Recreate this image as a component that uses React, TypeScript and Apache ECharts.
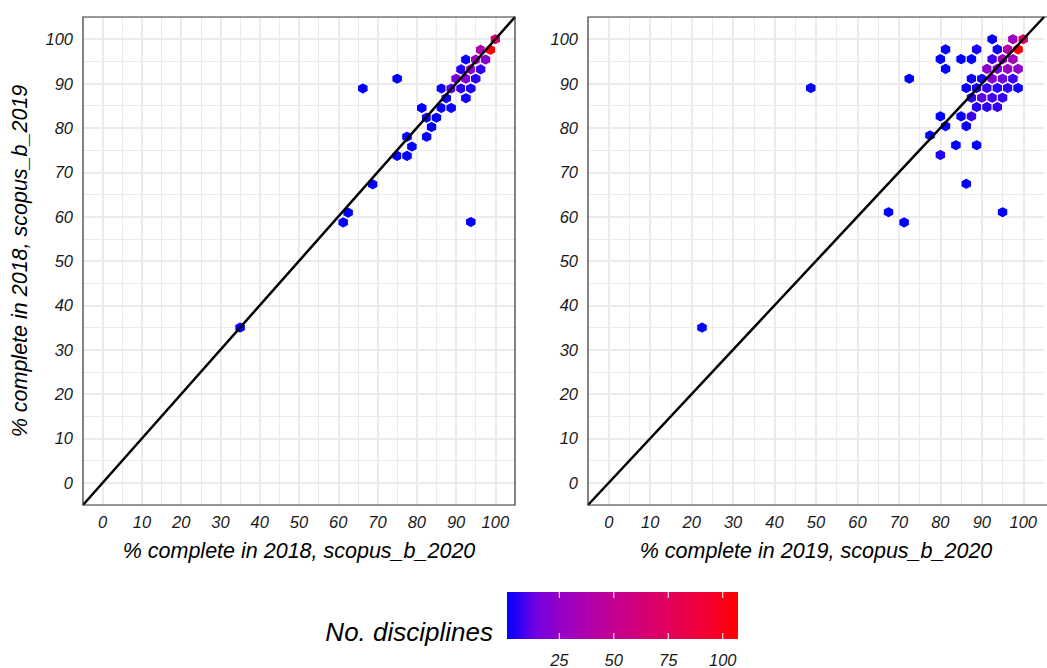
import React, { useEffect, useRef } from "react";
import * as echarts from "echarts";

// ---- data ----
// hexbin cells: [x, y, number of disciplines]
const leftCells: [number, number, number][] = [
  [100, 100, 65],
  [96.25, 97.6, 38], [98.75, 97.6, 107],
  [92.5, 95.4, 2], [95, 95.4, 30], [97.5, 95.4, 22],
  [91.25, 93.2, 5], [93.75, 93.2, 25], [96.25, 93.2, 7],
  [75, 91.1, 1], [90, 91.1, 18], [92.5, 91.1, 20], [95, 91.1, 6],
  [66.25, 88.9, 1], [86.25, 88.9, 3], [88.75, 88.9, 11], [91.25, 88.9, 6], [93.75, 88.9, 4],
  [87.5, 86.7, 2], [92.5, 86.7, 3],
  [81.25, 84.5, 1], [86.25, 84.5, 2], [88.75, 84.5, 2],
  [82.5, 82.3, 2], [85, 82.3, 1],
  [83.75, 80.2, 1],
  [77.5, 78, 1], [82.5, 78, 2],
  [78.75, 75.8, 1],
  [75, 73.7, 1], [77.5, 73.7, 1],
  [68.75, 67.3, 1],
  [62.5, 60.9, 1],
  [61.25, 58.7, 1], [93.75, 58.8, 1],
  [35, 35, 1],
];

const rightCells: [number, number, number][] = [
  [92.5, 100, 1], [97.5, 100, 30], [100, 100, 70],
  [81.25, 97.7, 1], [88.75, 97.7, 4], [93.75, 97.7, 3], [96.25, 97.7, 40], [98.75, 97.7, 107],
  [80, 95.5, 1], [85, 95.5, 1], [87.5, 95.5, 1], [92.5, 95.5, 8], [95, 95.5, 28], [97.5, 95.5, 32],
  [81.25, 93.3, 1], [91.25, 93.3, 22], [93.75, 93.3, 18], [96.25, 93.3, 28], [98.75, 93.3, 25],
  [72.5, 91.1, 1], [87.5, 91.1, 2], [90, 91.1, 3], [92.5, 91.1, 20], [95, 91.1, 14], [97.5, 91.1, 8],
  [86.25, 89, 2], [88.75, 89, 3], [91.25, 89, 7], [93.75, 89, 6], [96.25, 89, 6], [98.75, 89, 3],
  [87.5, 86.8, 5], [90, 86.8, 12], [92.5, 86.8, 9], [95, 86.8, 7],
  [88.75, 84.7, 5], [91.25, 84.7, 6], [93.75, 84.7, 7],
  [80, 82.6, 1], [85, 82.6, 2], [87.5, 82.6, 8],
  [81.25, 80.4, 1], [86.25, 80.4, 2],
  [77.5, 78.3, 1],
  [83.75, 76.1, 1], [88.75, 76.1, 1],
  [80, 73.9, 5],
  [86.25, 67.4, 1],
  [67.5, 61, 1], [95, 61, 1],
  [71.25, 58.7, 1],
  [48.75, 89, 1],
  [22.5, 35, 1],
];

const axisMin = -5;
const axisMax = 105;
const majorTicks = [0, 10, 20, 30, 40, 50, 60, 70, 80, 90, 100];
const minorTicks = [5, 15, 25, 35, 45, 55, 65, 75, 85, 95];
const diagonal = [[-5, -5], [105, 105]];
const legendTicks = [25, 50, 75, 100];
const countMin = 1;
const countMax = 107;
const gradientStops = ["#0000FF", "#7300E0", "#9A00C2", "#B500A5", "#C90088", "#DA006C", "#E8004F", "#F40031", "#FF0000"];

const xTitles = ["% complete in 2018, scopus_b_2020", "% complete in 2019, scopus_b_2020"];
const yTitle = "% complete in 2018, scopus_b_2019";
const legendTitle = "No. disciplines";

const FONT = "'Liberation Sans', Arial, sans-serif";

export default function App() {
  const ref = useRef<HTMLDivElement>(null);
  useEffect(() => {
    if (!ref.current) return;
    const chart = echarts.init(ref.current, undefined, { renderer: "svg" });

    const top = 17;
    const height = 488;
    const grids = [
      { left: 83, top, width: 432, height },
      { left: 588, top, width: 461, height },
    ];

    const labelFmt = (v: number) => (Math.round(v) % 10 === 0 && v >= 0 && v <= 100 ? String(v) : "");
    const axisLabel = {
      formatter: labelFmt,
      fontFamily: FONT,
      fontStyle: "italic",
      fontSize: 16.5,
      color: "#1a1a1a",
    };
    const titleStyle = { fontFamily: FONT, fontStyle: "italic", fontSize: 21.5, color: "#000" };

    const xAxes = grids.map((_, i) => ({
      type: "value",
      gridIndex: i,
      min: axisMin,
      max: axisMax,
      interval: 5,
      axisLine: { show: false },
      axisTick: { show: false },
      splitLine: { show: false },
      axisLabel: { ...axisLabel, margin: 8 },
      name: xTitles[i],
      nameLocation: "middle",
      nameGap: 35,
      nameTextStyle: titleStyle,
    }));
    const yAxes = grids.map((_, i) => ({
      type: "value",
      gridIndex: i,
      min: axisMin,
      max: axisMax,
      interval: 5,
      axisLine: { show: false },
      axisTick: { show: false },
      splitLine: { show: false },
      axisLabel: { ...axisLabel, margin: 10 },
      name: i === 0 ? yTitle : "",
      nameLocation: "middle",
      nameGap: 52,
      nameTextStyle: titleStyle,
    }));

    const gridLineData = [
      ...minorTicks.map((v) => ({ xAxis: v, lineStyle: { width: 1 } })),
      ...minorTicks.map((v) => ({ yAxis: v, lineStyle: { width: 1 } })),
      ...majorTicks.map((v) => ({ xAxis: v, lineStyle: { width: 2 } })),
      ...majorTicks.map((v) => ({ yAxis: v, lineStyle: { width: 2 } })),
    ];

    const hexPath = "path://M0,-1L0.866,-0.5L0.866,0.5L0,1L-0.866,0.5L-0.866,-0.5Z";

    const series: any[] = [];
    [leftCells, rightCells].forEach((cells, i) => {
      series.push({
        type: "line",
        xAxisIndex: i,
        yAxisIndex: i,
        data: [],
        z: 1,
        silent: true,
        markLine: {
          silent: true,
          symbol: "none",
          label: { show: false },
          lineStyle: { color: "#EBEBEB", type: "solid" },
          data: gridLineData,
        },
      });
      series.push({
        type: "scatter",
        xAxisIndex: i,
        yAxisIndex: i,
        data: cells,
        symbol: hexPath,
        symbolSize: [10.5, 11.5],
        itemStyle: { borderColor: "#fff", borderWidth: 1, opacity: 1 },
        z: 5,
      });
      series.push({
        type: "line",
        xAxisIndex: i,
        yAxisIndex: i,
        data: diagonal,
        showSymbol: false,
        symbol: "none",
        lineStyle: { color: "#000", width: 2.5 },
        z: 10,
        silent: true,
      });
    });

    const barX = 507;
    const barY = 592;
    const barW = 231;
    const barH = 47;
    const pos = (v: number) => barX + ((v - countMin) / (countMax - countMin)) * barW;

    const graphics: any[] = [];
    grids.forEach((g) => {
      graphics.push({
        type: "rect",
        z: 100,
        silent: true,
        shape: { x: g.left, y: g.top, width: g.width, height: g.height },
        style: { fill: "none", stroke: "#333", lineWidth: 1.2 },
      });
    });
    graphics.push({
      type: "rect",
      shape: { x: barX, y: barY, width: barW, height: barH },
      style: {
        fill: new echarts.graphic.LinearGradient(
          0, 0, 1, 0,
          gradientStops.map((c, k) => ({ offset: k / (gradientStops.length - 1), color: c }))
        ),
      },
    });
    legendTicks.forEach((v) => {
      const x = pos(v);
      graphics.push({ type: "line", shape: { x1: x, y1: barY, x2: x, y2: barY + 6 }, style: { stroke: "#fff", lineWidth: 1 } });
      graphics.push({ type: "line", shape: { x1: x, y1: barY + barH - 6, x2: x, y2: barY + barH }, style: { stroke: "#fff", lineWidth: 1 } });
      graphics.push({
        type: "text",
        x,
        y: 660,
        style: {
          text: String(v),
          fontFamily: FONT,
          fontStyle: "italic",
          fontSize: 16.5,
          fill: "#1a1a1a",
          align: "center",
          verticalAlign: "middle",
        },
      });
    });
    graphics.push({
      type: "text",
      x: 493,
      y: 632,
      style: {
        text: legendTitle,
        fontFamily: FONT,
        fontStyle: "italic",
        fontSize: 26,
        fill: "#000",
        align: "right",
        verticalAlign: "middle",
      },
    });

    chart.setOption({
      animation: false,
      backgroundColor: "#fff",
      grid: grids.map((g) => ({ ...g, show: true, backgroundColor: "#fff", borderWidth: 0, containLabel: false })),
      xAxis: xAxes,
      yAxis: yAxes,
      visualMap: {
        type: "continuous",
        show: false,
        min: countMin,
        max: countMax,
        dimension: 2,
        seriesIndex: [1, 4],
        inRange: { color: gradientStops },
      },
      series,
      graphic: graphics,
    });

    return () => chart.dispose();
  }, []);

  return <div ref={ref} style={{ position: "absolute", left: 0, top: 0, width: 1047, height: 668, overflow: "hidden" }} />;
}
